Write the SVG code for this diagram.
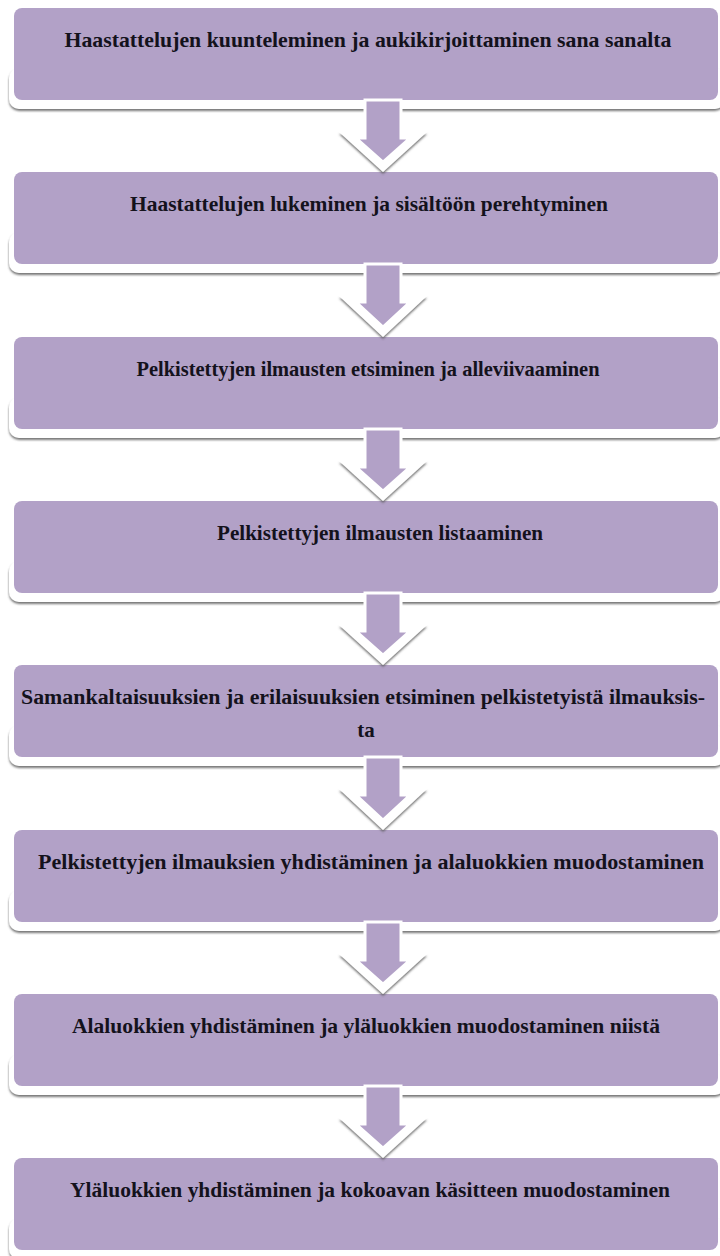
<svg xmlns="http://www.w3.org/2000/svg" width="720" height="1256" viewBox="0 0 720 1256">
<defs>
<filter id="sh" x="-5%" y="-20%" width="110%" height="160%">
<feDropShadow dx="0" dy="2" stdDeviation="1" flood-color="#555" flood-opacity="0.8"/>
</filter>
<style>
.plate{fill:#fff;filter:url(#sh)}
.box{fill:#B2A1C7}
.lbl{font-family:"Liberation Serif","DejaVu Serif","Times New Roman",serif;font-size:21px;font-weight:bold;fill:#14121c;text-anchor:middle}
.sm{font-size:20px}
.chev{fill:#fff;filter:url(#sh)}
.arr{fill:#B2A1C7;stroke:#fff;stroke-width:3;stroke-linejoin:miter}
</style>
</defs>
<rect width="720" height="1256" fill="#fff"/>
<g id="n1">
<rect class="plate" x="9" y="68" width="716" height="41" rx="10"/>
<rect class="box" x="14" y="8" width="704" height="92" rx="8"/>
<text class="lbl" x="368" y="47" textLength="607" lengthAdjust="spacingAndGlyphs">Haastattelujen kuunteleminen ja aukikirjoittaminen sana sanalta</text>
</g>
<g id="n2">
<rect class="plate" x="9" y="232" width="716" height="41" rx="10"/>
<rect class="box" x="14" y="172" width="704" height="92" rx="8"/>
<text class="lbl" x="369" y="211" textLength="478" lengthAdjust="spacingAndGlyphs">Haastattelujen lukeminen ja sisältöön perehtyminen</text>
</g>
<g id="n3">
<rect class="plate" x="9" y="397" width="716" height="41" rx="10"/>
<rect class="box" x="14" y="337" width="704" height="92" rx="8"/>
<text class="lbl" x="368" y="376" textLength="463" lengthAdjust="spacingAndGlyphs">Pelkistettyjen ilmausten etsiminen ja alleviivaaminen</text>
</g>
<g id="n4">
<rect class="plate" x="9" y="561" width="716" height="41" rx="10"/>
<rect class="box" x="14" y="501" width="704" height="92" rx="8"/>
<text class="lbl" x="380" y="540" textLength="326" lengthAdjust="spacingAndGlyphs">Pelkistettyjen ilmausten listaaminen</text>
</g>
<g id="n5">
<rect class="plate" x="9" y="725" width="716" height="41" rx="10"/>
<rect class="box" x="14" y="665" width="704" height="92" rx="8"/>
<text class="lbl sm" x="363" y="704" textLength="684" lengthAdjust="spacingAndGlyphs">Samankaltaisuuksien ja erilaisuuksien etsiminen pelkistetyistä ilmauksis-</text>
<text class="lbl" x="366" y="737">ta</text>
</g>
<g id="n6">
<rect class="plate" x="9" y="890" width="716" height="41" rx="10"/>
<rect class="box" x="14" y="830" width="704" height="92" rx="8"/>
<text class="lbl sm" x="371" y="869" textLength="666" lengthAdjust="spacingAndGlyphs">Pelkistettyjen ilmauksien yhdistäminen ja alaluokkien muodostaminen</text>
</g>
<g id="n7">
<rect class="plate" x="9" y="1054" width="716" height="41" rx="10"/>
<rect class="box" x="14" y="994" width="704" height="92" rx="8"/>
<text class="lbl" x="366" y="1033" textLength="588" lengthAdjust="spacingAndGlyphs">Alaluokkien yhdistäminen ja yläluokkien muodostaminen niistä</text>
</g>
<g id="n8">
<rect class="plate" x="9" y="1218" width="716" height="41" rx="10"/>
<rect class="box" x="14" y="1158" width="704" height="92" rx="8"/>
<text class="lbl" x="370" y="1197" textLength="600" lengthAdjust="spacingAndGlyphs">Yläluokkien yhdistäminen ja kokoavan käsitteen muodostaminen</text>
</g>
<g id="connectors">
<g id="a1"><polygon class="chev" points="339,132 427,132 383,172"/><path class="arr" d="M365,100 L401,100 L401,138 L410,138 L383,162 L356,138 L365,138 Z"/></g>
<g id="a2"><polygon class="chev" points="339,296 427,296 383,337"/><path class="arr" d="M365,264 L401,264 L401,302 L410,302 L383,327 L356,302 L365,302 Z"/></g>
<g id="a3"><polygon class="chev" points="339,461 427,461 383,501"/><path class="arr" d="M365,429 L401,429 L401,467 L410,467 L383,491 L356,467 L365,467 Z"/></g>
<g id="a4"><polygon class="chev" points="339,625 427,625 383,665"/><path class="arr" d="M365,593 L401,593 L401,631 L410,631 L383,655 L356,631 L365,631 Z"/></g>
<g id="a5"><polygon class="chev" points="339,789 427,789 383,830"/><path class="arr" d="M365,757 L401,757 L401,795 L410,795 L383,820 L356,795 L365,795 Z"/></g>
<g id="a6"><polygon class="chev" points="339,954 427,954 383,994"/><path class="arr" d="M365,922 L401,922 L401,960 L410,960 L383,984 L356,960 L365,960 Z"/></g>
<g id="a7"><polygon class="chev" points="339,1118 427,1118 383,1158"/><path class="arr" d="M365,1086 L401,1086 L401,1124 L410,1124 L383,1148 L356,1124 L365,1124 Z"/></g>
</g>
</svg>
